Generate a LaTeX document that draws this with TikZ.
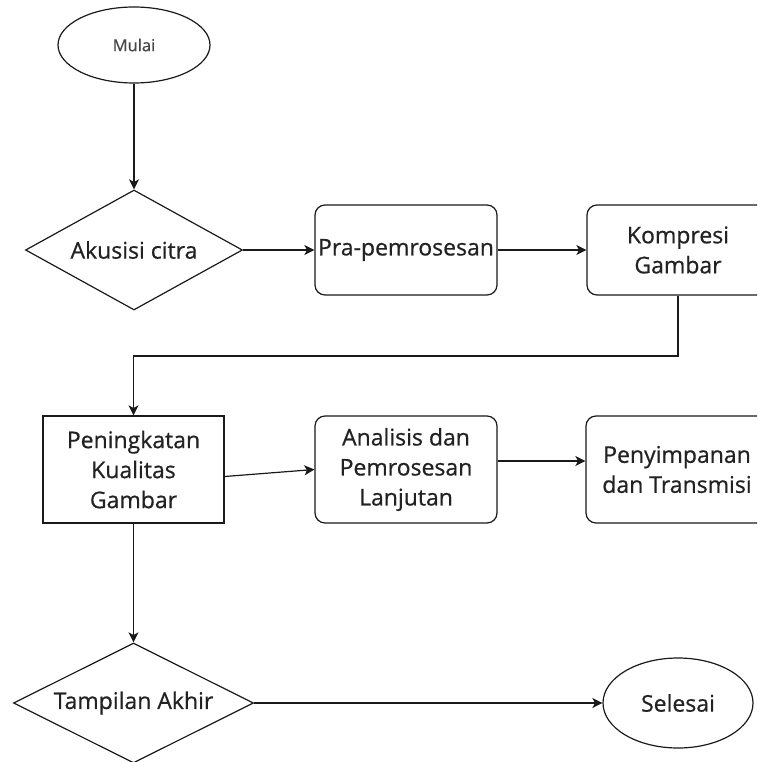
\documentclass[tikz,border=0pt]{standalone}
\usepackage{fontspec}
\setmainfont{Open Sans}[FakeBold=0.6]
\usetikzlibrary{shapes.geometric,arrows.meta,calc}
\definecolor{txt}{HTML}{222222}
\definecolor{ln}{HTML}{1A1A1A}
\begin{document}
\begin{tikzpicture}[x=1pt,y=-1pt,
  base/.style={draw=ln,line width=1.2pt,inner sep=0pt,align=center,text=txt,
    font=\fontsize{23}{30}\selectfont},
  term/.style={base,ellipse},
  decide/.style={base,diamond},
  proc/.style={base,rectangle,rounded corners=10pt,minimum width=182pt},
  sharp/.style={base,rectangle,minimum width=181pt,minimum height=107pt},
  arr/.style={draw=ln,line width=1.2pt,-{Stealth[length=10pt,width=10pt,inset=2.5pt]}},
  ln/.style={draw=ln,line width=1.2pt}]
\clip (0,0) rectangle (757,762);
\fill[white] (0,0) rectangle (757,762);
\node[term,minimum width=152pt,minimum height=76pt,font=\fontsize{16.5}{19}\selectfont,text=black!72] (mulai) at (134,45) {Mulai};
\node[decide,minimum width=217pt,minimum height=120pt,aspect=1.8] (ak) at (134,250) {Akusisi citra};
\node[proc,minimum height=90pt] (pra) at (406,250) {Pra-pemrosesan};
\node[proc,minimum height=90pt] (kom) at (678,250) {Kompresi\\Gambar};
\node[sharp] (pen) at (133.5,469.5) {Peningkatan\\Kualitas\\Gambar};
\node[proc,minimum height=107pt] (ana) at (406,469.5) {Analisis dan\\Pemrosesan\\Lanjutan};
\node[proc,minimum height=107pt] (peny) at (677,469.5) {Penyimpanan\\dan Transmisi};
\node[decide,minimum width=240pt,minimum height=120pt,aspect=2] (tam) at (133.5,703) {Tampilan Akhir};
\node[term,minimum width=150pt,minimum height=90pt] (sel) at (678,703) {Selesai};
\coordinate (turn) at (0,356);
\draw[arr] (mulai.south) -- (ak.north);
\draw[arr] (ak.east) -- (pra.west);
\draw[arr] (pra.east) -- (kom.west);
\draw[arr] (kom.south) -- (kom.south |- turn) -| (pen.north);
\draw[arr] ([yshift=-7pt]pen.east) -- (ana.west);
\draw[arr] ([yshift=8.5pt]ana.east) -- ([yshift=8.5pt]peny.west);
\draw[arr] (pen.south) -- (tam.north);
\draw[arr] (tam.east) -- (sel.west);
\end{tikzpicture}
\end{document}
